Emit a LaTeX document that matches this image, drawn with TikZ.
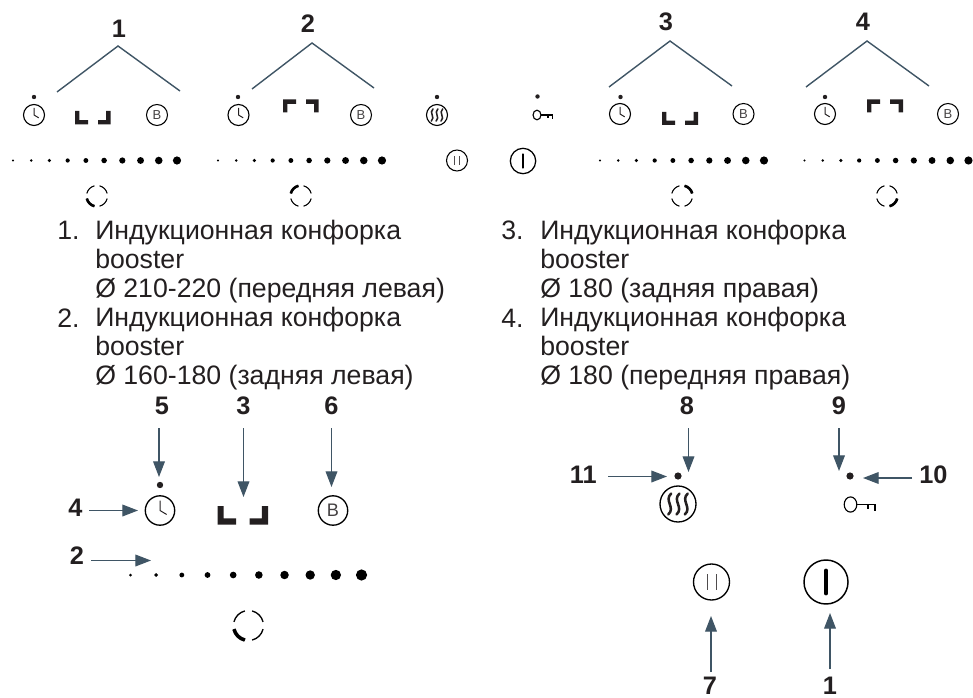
\documentclass[tikz,border=0pt]{standalone}
\usepackage{fontspec}
\setmainfont{Liberation Sans}
\usetikzlibrary{arrows.meta}
\definecolor{ink}{HTML}{231F20}
\definecolor{slate}{HTML}{3F5565}
\newcommand\fs[2]{\fontsize{#1}{#2}\selectfont}
\tikzset{
  x=0.75pt,y=-0.75pt,
  numlabel/.style={text=ink,font=\fs{19pt}{21pt}\bfseries,inner sep=0pt},
  listtext/.style={text=ink,font=\fs{20pt}{21.75pt},inner sep=0pt,align=left,anchor=north west},
  listnum/.style={text=ink,font=\fs{20pt}{21.75pt},inner sep=0pt,anchor=base west},
  roof/.style={draw=slate,line width=1.05pt},
  ptr/.style={draw=slate,line width=0.85pt,-{Triangle[length=11.7pt,width=8.8pt]}},
  ring/.style={draw=black,line width=#1,fill=none},
  blob/.style={fill=ink,draw=none},
}
\newcommand\clockic[4]{\begin{scope}[shift={(#1,#2)}]
  \draw[ring=#4] (0,0) circle[radius=#3];
  \draw[draw=ink,line width=0.75pt] (0,-0.68*#3) -- (0,0) -- (0.45*#3,0.27*#3);
\end{scope}}
\newcommand\bic[6]{\draw[ring=#4] (#1,#2) circle[radius=#3];
  \node[inner sep=0pt,text=ink!85,font=\fs{#5}{#5}] (#6) at (#1,#2) {B};}
\newcommand\heatic[5]{\begin{scope}[shift={(#1,#2)}]
  \draw[ring=#4] (0,0) circle[radius=#3];
  \foreach \k in {-0.46,0,0.46}{
    \draw[draw=ink,line width=#5,line cap=round]
      ({(\k+0.08)*#3},{-0.58*#3}) .. controls ({(\k-0.34)*#3},{-0.2*#3}) and ({(\k+0.34)*#3},{0.2*#3}) .. ({(\k-0.08)*#3},{0.58*#3});
  }
\end{scope}}
\newcommand\pauseic[4]{\begin{scope}[shift={(#1,#2)}]
  \draw[ring=#4] (0,0) circle[radius=#3];
  \draw[draw=ink!80,line width=0.7pt] (-0.25*#3,-0.42*#3) -- (-0.25*#3,0.42*#3);
  \draw[draw=ink!80,line width=0.7pt] (0.25*#3,-0.42*#3) -- (0.25*#3,0.42*#3);
\end{scope}}
\newcommand\poweric[5]{\begin{scope}[shift={(#1,#2)}]
  \draw[ring=#4] (0,0) circle[radius=#3];
  \draw[draw=black,line width=#5,line cap=round] (0,-0.52*#3) -- (0,0.52*#3);
\end{scope}}
\newcommand\keyic[3]{\begin{scope}[shift={(#1,#2)},scale=#3]
  \draw[draw=black,line width=0.85pt] (0,0) ellipse[x radius=6.3,y radius=7.6];
  \draw[draw=black,line width=0.85pt] (6.3,0) -- (24.5,0) -- (24.5,6.5);
  \draw[draw=black,line width=0.85pt] (17.5,0) -- (17.5,4.5);
\end{scope}}
\newcommand\zonelow[6]{%
  \fill[ink] (#1,#5) -- ({#1+4.3*(#2-#1)/13},#5) -- ({#1+4.3*(#2-#1)/13},{#6-4.3*(#2-#1)/13}) -- (#2,{#6-4.3*(#2-#1)/13}) -- (#2,#6) -- (#1,#6) -- cycle;
  \fill[ink] (#4,#5) -- ({#4-4.3*(#2-#1)/13},#5) -- ({#4-4.3*(#2-#1)/13},{#6-4.3*(#2-#1)/13}) -- (#3,{#6-4.3*(#2-#1)/13}) -- (#3,#6) -- (#4,#6) -- cycle;}
\newcommand\zonehigh[6]{%
  \fill[ink] (#1,#6) -- ({#1+4.3},#6) -- ({#1+4.3},{#5+4.3}) -- (#2,{#5+4.3}) -- (#2,#5) -- (#1,#5) -- cycle;
  \fill[ink] (#4,#6) -- ({#4-4.3},#6) -- ({#4-4.3},{#5+4.3}) -- (#3,{#5+4.3}) -- (#3,#5) -- (#4,#5) -- cycle;}
\newcommand\dialic[6]{\begin{scope}[shift={(#1,#2)}]
  \foreach \q in {0,90,180,270}{
    \draw[draw=black,line width=#4] ({\q+14}:#3) arc[start angle={\q+14},end angle={\q+76},radius=#3];
  }
  \draw[draw=black,line width=#5] ({#6+14}:#3) arc[start angle={#6+14},end angle={#6+76},radius=#3];
\end{scope}}
\newcommand\dotrow[5]{\foreach \i in {0,...,9}{
  \fill[black] ({#1+\i*#3},#2) circle[radius={#4+\i*(#5-#4)/9}];}}
\newcommand\roofic[7]{%
  \coordinate (#1a) at (#2,#3); \coordinate (#1t) at (#4,#5); \coordinate (#1b) at (#6,#7);
  \draw[roof] (#1a) -- (#1t) -- (#1b);}
\newcommand\pointer[5]{%
  \coordinate (#1s) at (#2,#3); \coordinate (#1e) at (#4,#5);
  \draw[ptr] (#1s) -- (#1e);}
\begin{document}
\begin{tikzpicture}
\useasboundingbox (0,0) rectangle (973,698);
% top labels
\node[numlabel] (t1) at (119,29) {1};
\node[numlabel] (t2) at (308,24) {2};
\node[numlabel] (t3) at (666,22) {3};
\node[numlabel] (t4) at (863,22) {4};
\roofic{rA}{57}{92}{118}{46}{180}{91}
\roofic{rB}{252}{89}{312}{43}{374}{88}
\roofic{rC}{609}{87}{670}{41}{732}{86}
\roofic{rD}{806}{87}{867}{41}{929}{86}
\foreach \dx/\dy in {34/97,238/97,437/97,537.5/96.5,620.5/97,825/97}{\fill[blob] (\dx,\dy) circle[radius=2.2];}
\clockic{34}{115}{10.5}{0.85pt}
\clockic{238.5}{115}{10.5}{0.85pt}
\clockic{620}{114}{10.5}{0.85pt}
\clockic{825}{114}{10.5}{0.85pt}
\bic{157}{115}{10.5}{0.8pt}{9.75pt}{bA}
\bic{361}{115}{10.5}{0.8pt}{9.75pt}{bB}
\bic{743.5}{114}{10.5}{0.8pt}{9.75pt}{bC}
\bic{948}{114}{10.5}{0.8pt}{9.75pt}{bD}
\heatic{437}{115}{10.5}{0.85pt}{1.15pt}
\keyic{537}{115}{0.63}
\zonelow{75}{88}{98}{110.5}{111}{124.5}
\zonelow{662}{675}{685}{698}{112}{125}
\zonehigh{283}{296}{306}{318.5}{99.5}{112.5}
\zonehigh{867}{880}{890}{903}{99.5}{112.5}
% sliders
\dotrow{13}{160.5}{18.22}{1.1}{4.1}
\dotrow{218}{160.5}{18.22}{1.1}{4.1}
\dotrow{600}{160.5}{18.22}{1.1}{4.1}
\dotrow{804.5}{160.5}{18.22}{1.1}{4.1}
\pauseic{457}{160.5}{10.5}{0.8pt}
\poweric{523}{161}{12.7}{0.95pt}{1.8pt}
\dialic{97}{196}{10.5}{0.8pt}{2pt}{90}
\dialic{301}{196}{10.5}{0.8pt}{2pt}{180}
\dialic{682}{196}{10.5}{0.8pt}{2pt}{270}
\dialic{887}{196}{10.5}{0.8pt}{2pt}{0}
% lists
\node[listnum] (n1) at (57,240) {1.};
\node[listtext] (i1) at (95,220) {Индукционная конфорка\\booster\\Ø 210-220 (передняя левая)};
\node[listnum] (n2) at (57,327) {2.};
\node[listtext] (i2) at (95,307) {Индукционная конфорка\\booster\\Ø 160-180 (задняя левая)};
\node[listnum] (n3) at (501,240) {3.};
\node[listtext] (i3) at (540,220) {Индукционная конфорка\\booster\\Ø 180 (задняя правая)};
\node[listnum] (n4) at (501,327) {4.};
\node[listtext] (i4) at (540,307) {Индукционная конфорка\\booster\\Ø 180 (передняя правая)};
% lower left legend
\node[numlabel] (l5) at (162,406) {5};
\node[numlabel] (l3) at (243.5,406) {3};
\node[numlabel] (l6) at (331.5,406) {6};
\node[numlabel] (l4) at (75.5,508) {4};
\node[numlabel] (l2) at (77,556) {2};
\pointer{p5}{159}{428}{159}{477}
\pointer{p3}{243.5}{428}{243.5}{497}
\pointer{p6}{331.5}{428}{331.5}{487}
\pointer{p4}{89}{510.5}{138}{510.5}
\pointer{p2}{91}{560.5}{151}{560.5}
\fill[blob] (160,485) circle[radius=3.2];
\clockic{160}{510.5}{14.7}{1pt}
\bic{333}{510.5}{14.7}{1pt}{13.6pt}{bL}
\zonelow{217.5}{236}{249.5}{268}{506}{524.5}
\dotrow{130.5}{575}{25.67}{1.5}{5.6}
\dialic{248.5}{625.5}{15}{1pt}{2.7pt}{90}
% lower right legend
\node[numlabel,anchor=east] (l11) at (597,475) {11};
\node[numlabel,anchor=west] (l10) at (919,475) {10};
\node[numlabel] (l8) at (687,406) {8};
\node[numlabel] (l9) at (839,406) {9};
\node[numlabel] (l7) at (710,685.5) {7};
\node[numlabel] (l1) at (830,685.5) {1};
\pointer{p8}{688.5}{428}{688.5}{472}
\pointer{p9}{839}{428}{839}{471}
\pointer{p11}{608}{476.5}{667}{476.5}
\pointer{p10}{912}{478}{863}{478}
\pointer{p7}{711}{672}{711}{616}
\pointer{p1}{830}{669}{830}{613}
\fill[blob] (678,476) circle[radius=3.6];
\fill[blob] (850,476) circle[radius=3.6];
\heatic{678}{504}{18}{1pt}{1.9pt}
\keyic{850.5}{504.5}{1}
\pauseic{711.5}{582}{18}{1pt}
\poweric{826}{582}{22}{1.1pt}{3pt}
\end{tikzpicture}
\end{document}
